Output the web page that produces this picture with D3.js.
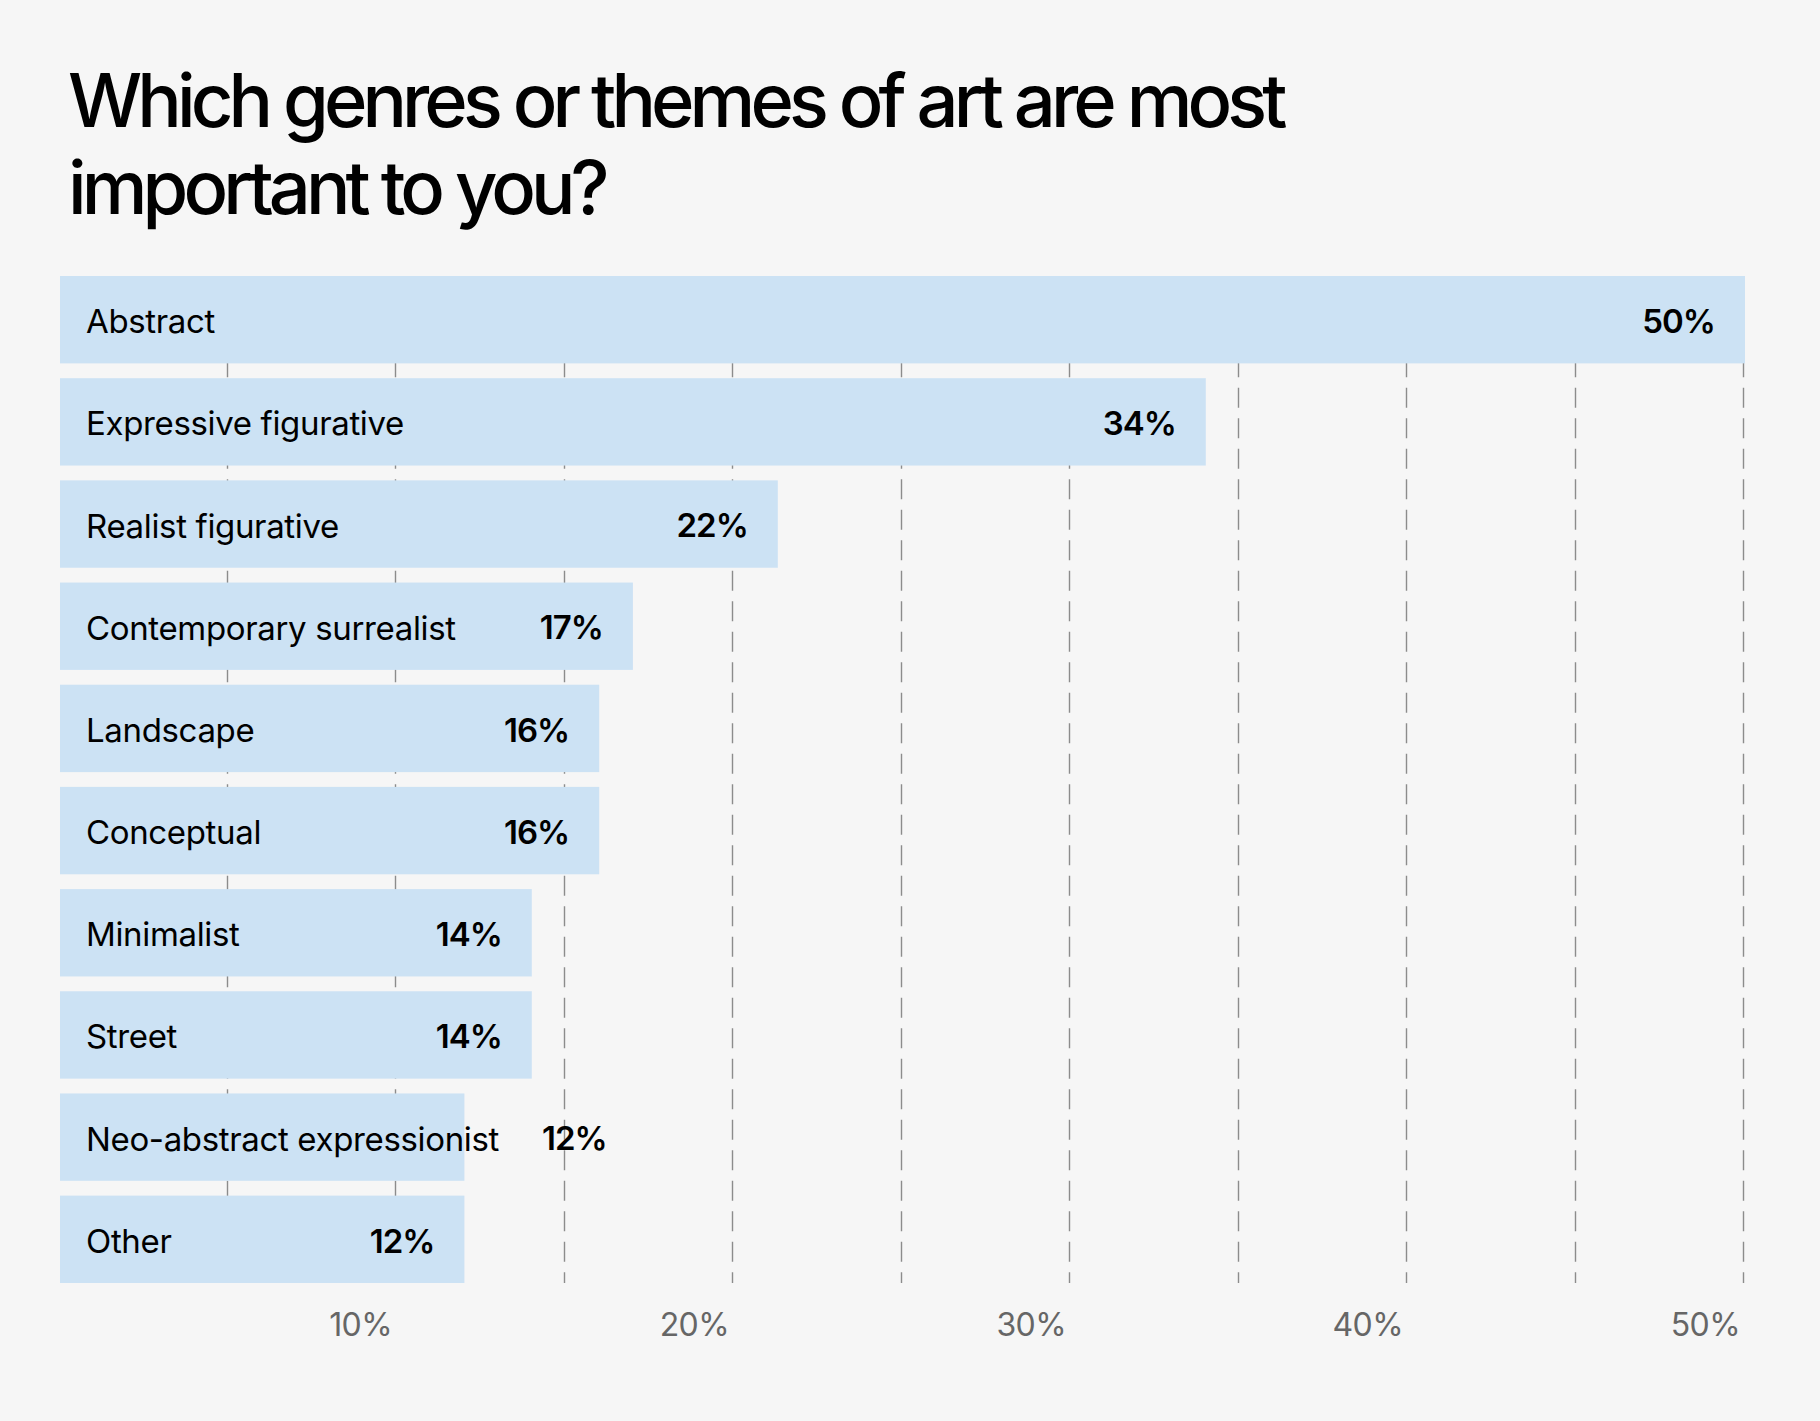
<!DOCTYPE html>
<html lang="en">
<head>
  <meta charset="UTF-8">
  <style>
    html, body {
      margin: 0;
      padding: 0;
      background: #f6f6f6;
    }
    svg text {
      font-family: Inter, "Noto Sans", sans-serif;
    }
  </style>
</head>
<body>
  <svg id="chart" width="1820" height="1421"></svg>

  <script src="https://d3js.org/d3.v7.min.js"></script>
  <script>
    // data
    const genres = [
      'Abstract', 'Expressive figurative', 'Realist figurative', 'Contemporary surrealist',
      'Landscape', 'Conceptual', 'Minimalist', 'Street', 'Neo-abstract expressionist', 'Other'
    ]
    // bar lengths as drawn (the 22% bar is drawn a little short in the source)
    const shares = [50, 34, 21.3, 17, 16, 16, 14, 14, 12, 12]
    // printed labels
    const shareLabels = ['50%', '34%', '22%', '17%', '16%', '16%', '14%', '14%', '12%', '12%']
    const gridValues = [5, 10, 15, 20, 25, 30, 35, 40, 45, 50]
    const tickValues = [10, 20, 30, 40, 50]
    const titleLines = ['Which genres or themes of art are most', 'important to you?']

    const rows = genres.map((g, i) => ({ genre: g, value: shares[i], label: shareLabels[i] }))

    const svg = d3.select('#chart')

    // title
    svg.append('g')
      .selectAll('text')
      .data(titleLines)
      .enter()
      .append('text')
      .attr('x', 68)
      .attr('y', (d, i) => 127 + i * 87)
      .attr('font-size', 74)
      .attr('font-weight', 500)
      .attr('letter-spacing', -4.9)
      .attr('fill', '#000')
      .text(d => d)

    // scales
    const x = d3.scaleLinear()
      .domain([0, 50])
      .range([60, 1745])

    const y = d3.scaleBand()
      .domain(genres)
      .range([276, 1283])
      .paddingInner(0.145)
      .paddingOuter(0)

    // dashed grid lines, drawn under the bars
    svg.append('g')
      .selectAll('line')
      .data(gridValues)
      .enter()
      .append('line')
      .attr('x1', d => Math.round(x(d)) - 1.5)
      .attr('x2', d => Math.round(x(d)) - 1.5)
      .attr('y1', y.range()[0])
      .attr('y2', y.range()[1])
      .attr('stroke', '#8c8c8c')
      .attr('stroke-width', 1.4)
      .attr('stroke-dasharray', '20 10.5')
      .attr('stroke-dashoffset', 10.2)

    // bars
    const barGroup = svg.append('g')
    barGroup
      .selectAll('rect')
      .data(rows)
      .enter()
      .append('rect')
      .attr('x', x(0))
      .attr('y', d => y(d.genre))
      .attr('width', d => x(d.value) - x(0))
      .attr('height', y.bandwidth())
      .attr('fill', '#cce2f4')

    // category labels
    const labels = svg.append('g')
      .selectAll('text')
      .data(rows)
      .enter()
      .append('text')
      .attr('x', 86)
      .attr('y', d => y(d.genre) + y.bandwidth() / 2)
      .attr('dy', '0.41em')
      .attr('font-size', 33)
      .attr('letter-spacing', -0.35)
      .attr('fill', '#000')
      .text(d => d.genre)

    // value labels: inside the bar end, or after the label if it won't fit
    const labelEnds = labels.nodes().map(n => 86 + n.getComputedTextLength())
    svg.append('g')
      .selectAll('text')
      .data(rows)
      .enter()
      .append('text')
      .attr('y', d => y(d.genre) + y.bandwidth() / 2)
      .attr('dy', '0.4em')
      .attr('font-size', 33)
      .attr('font-weight', 600)
      .attr('letter-spacing', -1)
      .attr('fill', '#000')
      .each(function (d, i) {
        const inside = x(d.value) - 30
        const el = d3.select(this)
        if (inside - 75 > labelEnds[i] + 20) {
          el.attr('x', inside).attr('text-anchor', 'end')
        } else {
          el.attr('x', labelEnds[i] + 43).attr('text-anchor', 'start')
        }
      })
      .text(d => d.label)

    // bottom tick labels
    svg.append('g')
      .selectAll('text')
      .data(tickValues)
      .enter()
      .append('text')
      .attr('x', d => x(d) - 5)
      .attr('y', 1336)
      .attr('text-anchor', 'end')
      .attr('font-size', 32)
      .attr('letter-spacing', -0.6)
      .attr('fill', '#666')
      .text(d => d + '%')
  </script>
</body>
</html>
